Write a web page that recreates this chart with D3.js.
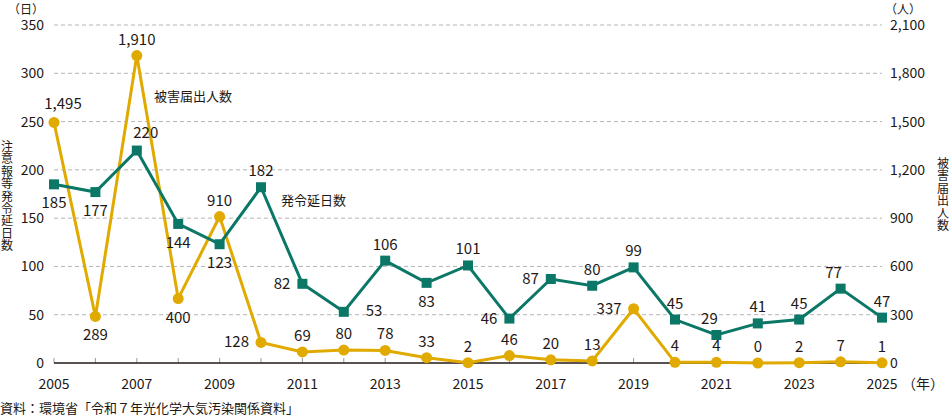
<!DOCTYPE html>
<html>
<head>
<meta charset="utf-8">
<script src="https://cdn.jsdelivr.net/npm/d3@7"></script>
<style>
  body { margin: 0; background: #fff; }
  svg text { font-family: "Noto Sans CJK JP", "Noto Sans", sans-serif; fill: #231815; }
</style>
</head>
<body>
<svg id="chart" width="950" height="417"></svg>
<script>
// data
var years = d3.range(2005, 2026);
var days = [185, 177, 220, 144, 123, 182, 82, 53, 106, 83, 101, 46, 87, 80, 99, 45, 29, 41, 45, 77, 47];
var people = [1495, 289, 1910, 400, 910, 128, 69, 80, 78, 33, 2, 46, 20, 13, 337, 4, 4, 0, 2, 7, 1];
var leftTicks = [0, 50, 100, 150, 200, 250, 300, 350];
var rightTicks = [0, 300, 600, 900, 1200, 1500, 1800, 2100];
var xTicks = [2005, 2007, 2009, 2011, 2013, 2015, 2017, 2019, 2021, 2023, 2025];
// where each value label sits relative to its mark
var daysLabelPos = ["below", "below", "aboveright", "below", "below", "above", "left", "right",
  "above", "below", "above", "left", "left", "above", "above", "above", "aboveleft", "above", "above", "aboveleft", "above"];
var peopleLabelPos = ["aboveright", "below", "above", "below", "above", "left", "above", "above", "above", "above",
  "above", "above", "above", "above", "left", "above", "above", "above", "above", "above", "above"];

var green = "#0b7767", yellow = "#e0aa00";
var svg = d3.select("#chart");
var m = {left: 54, right: 882, top: 25, bottom: 363};

var x = d3.scaleLinear().domain([2005, 2025]).range([m.left, m.right]);
var yL = d3.scaleLinear().domain([0, 350]).range([m.bottom, m.top]);
var yR = d3.scaleLinear().domain([0, 2100]).range([m.bottom, m.top]);

// grid
svg.append("g").selectAll("line").data(leftTicks.filter(function(d){ return d > 0; }))
  .enter().append("line")
  .attr("x1", m.left).attr("x2", m.right)
  .attr("y1", function(d){ return yL(d); }).attr("y2", function(d){ return yL(d); })
  .attr("stroke", "#b5b5b5").attr("stroke-width", 1).attr("stroke-dasharray", "4,3");

// left axis labels
svg.append("g").selectAll("text").data(leftTicks).enter().append("text")
  .attr("x", 44).attr("y", function(d){ return yL(d) + 5; })
  .attr("text-anchor", "end").style("font-size", "14px")
  .text(function(d){ return d; });

// right axis labels
svg.append("g").selectAll("text").data(rightTicks).enter().append("text")
  .attr("x", 890).attr("y", function(d){ return yR(d) + 5; })
  .attr("text-anchor", "start").style("font-size", "14px")
  .text(function(d){ return d3.format(",")(d); });

// x axis
var xAxis = svg.append("g").attr("transform", "translate(0," + m.bottom + ")");
xAxis.selectAll("line.tk").data(years).enter().append("line")
  .attr("x1", function(d){ return x(d); }).attr("x2", function(d){ return x(d); })
  .attr("y1", -5).attr("y2", 0).attr("stroke", "#999").attr("stroke-width", 1);
xAxis.append("line").attr("x1", m.left).attr("x2", m.right).attr("stroke", "#231815").attr("stroke-width", 1.5);
xAxis.selectAll("text").data(xTicks).enter().append("text")
  .attr("x", function(d){ return x(d); }).attr("y", 26)
  .attr("text-anchor", "middle").style("font-size", "14px")
  .text(function(d){ return d; });
svg.append("text").attr("x", 902).attr("y", m.bottom + 26).style("font-size", "14px").text("（年）");

// axis titles
svg.append("text").attr("x", 26).attr("y", 14).attr("text-anchor", "middle").style("font-size", "12px").text("（日）");
svg.append("text").attr("x", 903).attr("y", 14).attr("text-anchor", "middle").style("font-size", "12px").text("（人）");

function vertical(str, cx, y0) {
  svg.append("g").selectAll("text").data(str.split("")).enter().append("text")
    .attr("x", cx).attr("y", function(d, i){ return y0 + i * 12.4; })
    .attr("text-anchor", "middle").style("font-size", "12px")
    .text(function(d){ return d; });
}
vertical("注意報等発令延日数", 7, 151);
vertical("被害届出人数", 943, 168);

// source
svg.append("text").attr("x", 0).attr("y", 413).style("font-size", "13px").text("資料：環境省「令和７年光化学大気汚染関係資料」");

// lines
var lineDays = d3.line().x(function(d, i){ return x(years[i]); }).y(function(d){ return yL(d); });
var linePeople = d3.line().x(function(d, i){ return x(years[i]); }).y(function(d){ return yR(d); });

svg.append("path").datum(people).attr("d", linePeople)
  .attr("fill", "none").attr("stroke", yellow).attr("stroke-width", 3);
svg.append("path").datum(days).attr("d", lineDays)
  .attr("fill", "none").attr("stroke", green).attr("stroke-width", 3);

svg.append("g").selectAll("circle").data(people).enter().append("circle")
  .attr("cx", function(d, i){ return x(years[i]); }).attr("cy", function(d){ return yR(d); })
  .attr("r", 5.5).attr("fill", yellow);
svg.append("g").selectAll("rect").data(days).enter().append("rect")
  .attr("x", function(d, i){ return x(years[i]) - 5; }).attr("y", function(d){ return yL(d) - 5; })
  .attr("width", 10).attr("height", 10).attr("fill", green);

// value labels
function offset(pos) {
  if (pos === "above") return [0, -11, "middle"];
  if (pos === "below") return [0, 24, "middle"];
  if (pos === "left") return [-12, 5, "end"];
  if (pos === "right") return [22, 4, "start"];
  if (pos === "aboveleft") return [-7, -11, "middle"];
  if (pos === "aboveright") return [9, -13, "middle"];
  return [0, -11, "middle"];
}
function labels(vals, posArr, scale, fmt) {
  svg.append("g").selectAll("text").data(vals).enter().append("text")
    .attr("x", function(d, i){ return x(years[i]) + offset(posArr[i])[0]; })
    .attr("y", function(d, i){ return scale(d) + offset(posArr[i])[1]; })
    .attr("text-anchor", function(d, i){ return offset(posArr[i])[2]; })
    .style("font-size", "15px")
    .text(function(d){ return fmt(d); });
}
labels(days, daysLabelPos, yL, d3.format("d"));
labels(people, peopleLabelPos, yR, d3.format(","));

// series names
svg.append("text").attr("x", 154).attr("y", 101).style("font-size", "13px").text("被害届出人数");
svg.append("text").attr("x", 281).attr("y", 205).style("font-size", "13px").text("発令延日数");
</script>
</body>
</html>
